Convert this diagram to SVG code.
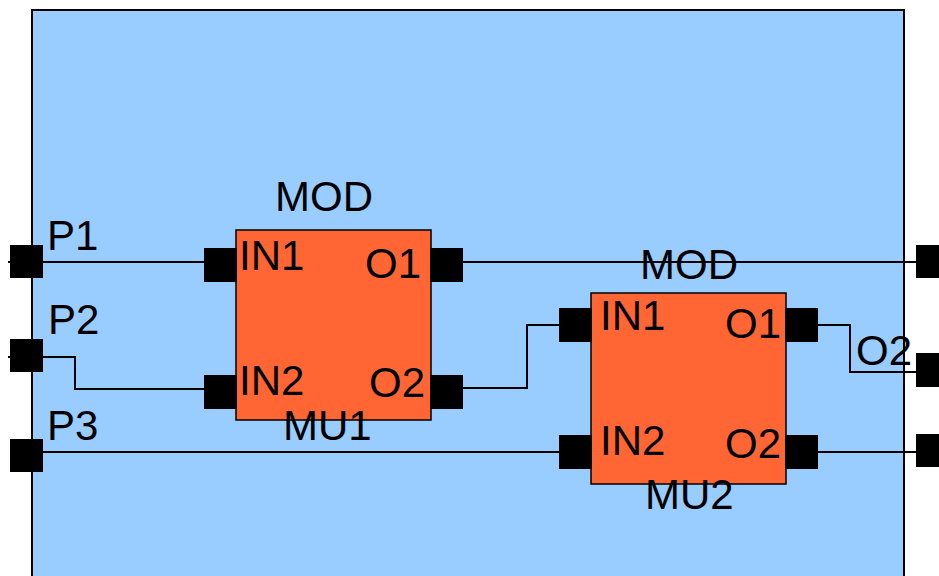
<svg xmlns="http://www.w3.org/2000/svg" width="939" height="576" viewBox="0 0 939 576">
<style>
text{font-family:"Liberation Sans",Arial,sans-serif;font-size:42px;fill:#000}
.port{fill:#000}
.mod{fill:#FF6633;stroke:#000;stroke-width:1.5}
.wire{fill:none;stroke:#000;stroke-width:2}
</style>
<rect id="top" x="32" y="10" width="872" height="580" fill="#99CCFF" stroke="#000" stroke-width="2"/>
<g id="connectors">
<path class="wire" d="M8 262H237"/>
<path class="wire" d="M8 357H75V389H237"/>
<path class="wire" d="M43 452H592"/>
<path class="wire" d="M463 262H916"/>
<path class="wire" d="M463 388H527V325H592"/>
<path class="wire" d="M818 325H850V372H916"/>
<path class="wire" d="M818 452H916"/>
</g>
<g id="P1"><rect class="port" x="10" y="245" width="33" height="33"/><text x="47" y="250">P1</text></g>
<g id="P2"><rect class="port" x="10" y="339" width="33" height="33"/><text x="48" y="334">P2</text></g>
<g id="P3"><rect class="port" x="10" y="439" width="33" height="33"/><text x="47" y="440">P3</text></g>
<g id="MU1">
<text x="275" y="211">MOD</text>
<rect class="mod" x="236" y="230" width="195" height="190"/>
<rect class="port" x="204" y="248" width="33" height="34"/>
<rect class="port" x="204" y="375" width="33" height="34"/>
<rect class="port" x="430" y="248" width="33" height="34"/>
<rect class="port" x="430" y="375" width="33" height="34"/>
<text x="239" y="270">IN1</text>
<text x="365" y="278">O1</text>
<text x="239" y="395">IN2</text>
<text x="369" y="397">O2</text>
<text x="283" y="440">MU1</text>
</g>
<g id="MU2">
<text x="640" y="279">MOD</text>
<rect class="mod" x="591" y="293" width="195" height="191"/>
<rect class="port" x="559" y="308" width="33" height="34"/>
<rect class="port" x="559" y="435" width="33" height="34"/>
<rect class="port" x="785" y="308" width="33" height="34"/>
<rect class="port" x="785" y="435" width="33" height="34"/>
<text x="600" y="330">IN1</text>
<text x="725" y="338">O1</text>
<text x="600" y="455">IN2</text>
<text x="725" y="458">O2</text>
<text x="645" y="509">MU2</text>
</g>
<g id="O1"><rect class="port" x="916" y="245" width="33" height="33"/></g>
<g id="O2"><rect class="port" x="916" y="353" width="33" height="34"/><text x="856" y="365">O2</text></g>
<g id="O3"><rect class="port" x="916" y="434" width="33" height="33"/></g>
</svg>
